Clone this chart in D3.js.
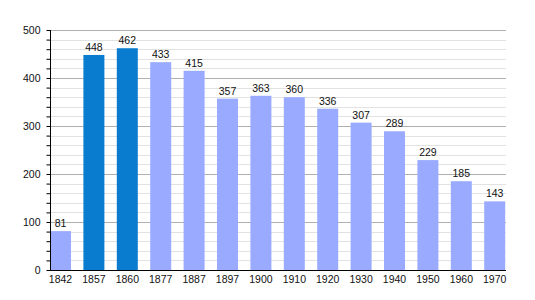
<!DOCTYPE html>
<html>
<head>
<meta charset="utf-8">
<script src="https://cdn.jsdelivr.net/npm/d3@7"></script>
<style>
  body { margin: 0; background: #fff; }
  svg text { font-family: "Liberation Sans", Arial, sans-serif; font-size: 10.5px; fill: #111; }
</style>
</head>
<body>
<svg id="chart" width="535" height="300"></svg>
<script>
// population by census year
var years = ['1842', '1857', '1860', '1877', '1887', '1897', '1900', '1910', '1920', '1930', '1940', '1950', '1960', '1970'];
var population = [81, 448, 462, 433, 415, 357, 363, 360, 336, 307, 289, 229, 185, 143];
var highlighted = ['1857', '1860'];  // darker bars
var yTicks = [0, 100, 200, 300, 400, 500];

var svg = d3.select('#chart');

var x0 = 50, x1 = 506, yBottom = 270, yTop = 30;
var step = 33.4, bw = 21, off = 6;

var x = d3.scaleBand()
    .domain(years)
    .range([x0 - off, x0 - off + step * years.length]);

var y = d3.scaleLinear()
    .domain([0, 500])
    .range([yBottom, yTop]);

// minor gridlines every 20
svg.append('g')
  .selectAll('line')
  .data(d3.range(20, 501, 20).filter(function(d) { return d % 100 !== 0; }))
  .enter().append('line')
    .attr('x1', x0).attr('x2', x1)
    .attr('y1', function(d) { return Math.round(y(d)) + 0.5; })
    .attr('y2', function(d) { return Math.round(y(d)) + 0.5; })
    .attr('stroke', '#e2e2e2');

// major gridlines
svg.append('g')
  .selectAll('line')
  .data(yTicks.slice(1))
  .enter().append('line')
    .attr('x1', x0).attr('x2', x1)
    .attr('y1', function(d) { return Math.round(y(d)) + 0.5; })
    .attr('y2', function(d) { return Math.round(y(d)) + 0.5; })
    .attr('stroke', '#b0b0b0');

// bars
svg.append('g')
  .selectAll('rect')
  .data(years)
  .enter().append('rect')
    .attr('x', function(d) { return x(d) + off; })
    .attr('width', bw)
    .attr('y', function(d, i) { return y(population[i]); })
    .attr('height', function(d, i) { return yBottom - y(population[i]); })
    .attr('fill', function(d) { return highlighted.indexOf(d) >= 0 ? '#0a7cd0' : '#9aabff'; });

// value labels
svg.append('g')
  .selectAll('text')
  .data(years)
  .enter().append('text')
    .attr('x', function(d) { return x(d) + off + bw / 2; })
    .attr('y', function(d, i) { return y(population[i]) - 4; })
    .attr('text-anchor', 'middle')
    .text(function(d, i) { return population[i]; });

// y axis with minor ticks
var yAxis = svg.append('g')
    .attr('transform', 'translate(' + (x0 + 0.5) + ',0)')
    .call(d3.axisLeft(y).tickValues(d3.range(0, 501, 20)).tickSize(4)
      .tickFormat(function(d) { return d % 100 === 0 ? d : ''; }));
yAxis.select('.domain').attr('stroke', '#000').attr('d', 'M0,' + yTop + 'V' + (yBottom + 0.5));
yAxis.selectAll('.tick line').attr('stroke', '#000');
yAxis.selectAll('.tick text').attr('x', -10).style('font-size', '10.5px').style('font-family', '"Liberation Sans", Arial, sans-serif').attr('fill', '#111');

// x axis
var xAxis = svg.append('g')
    .attr('transform', 'translate(0,' + (yBottom + 0.5) + ')')
    .call(d3.axisBottom(x).tickSize(0).tickPadding(5));
xAxis.select('.domain').attr('stroke', '#000').attr('d', 'M' + x0 + ',0H' + x1);
xAxis.selectAll('.tick').attr('transform', function(d) { return 'translate(' + (x(d) + off + bw / 2) + ',0)'; });
xAxis.selectAll('.tick text').style('font-size', '10.5px').style('font-family', '"Liberation Sans", Arial, sans-serif').attr('fill', '#111');
</script>
</body>
</html>
